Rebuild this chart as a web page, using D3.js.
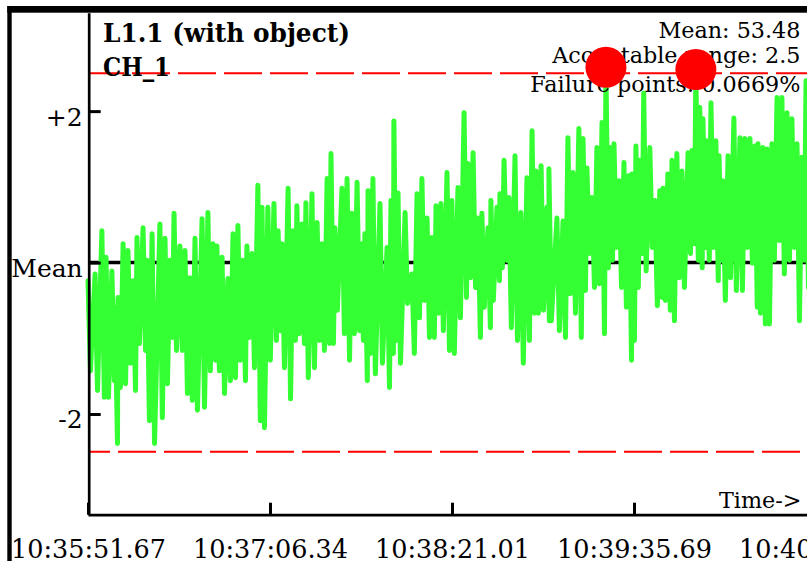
<!DOCTYPE html>
<html>
<head>
<meta charset="utf-8">
<script src="https://cdn.jsdelivr.net/npm/d3@7"></script>
<style>
  html, body { margin: 0; padding: 0; background: #ffffff; }
  svg { display: block; }
</style>
</head>
<body>
<script>
// ---------------- DATA ----------------
const chartTitle = "L1.1 (with object)";
const channelName = "CH_1";
const meanValue = 53.48;
const acceptableRange = 2.5;
const failurePoints = "0.0669%";
const xAxisNote = "Time->";

// x tick labels and their offsets (seconds after 10:35:51.67)
const xTickLabels = ["10:35:51.67", "10:37:06.34", "10:38:21.01", "10:39:35.69", "10:40:50.36"];
const xTickSeconds = [0, 74.67, 149.34, 224.02, 298.69];

// y ticks (deviation from mean)
const yTickValues = [2, 0, -2];
const yTickLabels = ["+2", "Mean", "-2"];

// sample times (seconds after start) of the read-off envelope columns
const sampleTimes = [
  0, 2.9, 5.7, 7.4, 9.8, 11.1, 12.3, 14.4, 16.4, 18.5,
  20.1, 22.6, 24.2, 26.3, 29.5, 31.6, 33.6, 35.3, 37.7, 39.8,
  41.8, 43.9, 46.8, 49.2, 51.3, 52.9, 55.0, 57.4, 59.5, 61.5,
  63.6, 65.2, 67.3, 69.7, 71.4, 73.8, 76.3, 78.0, 79.6, 82.1,
  84.1, 85.7, 87.8, 89.4, 91.9, 94.0, 96.0, 98.1, 99.7, 101.3,
  104.2, 106.3, 108.3, 110.4, 112.0, 113.6, 114.9, 116.9, 119.8, 122.7,
  124.3, 125.5, 127.2, 130.1, 132.9, 135.0, 137.0, 139.1, 141.1, 142.8,
  144.8, 147.3, 149.3, 151.8, 154.3, 155.9, 158.0, 160.0, 161.6, 164.1,
  165.3, 167.8, 169.0, 170.7, 172.7, 175.2, 177.6, 180.1, 182.2, 183.8,
  185.9, 188.3, 189.1, 192.4, 194.9, 196.9, 199.0, 201.4, 203.1, 204.7,
  206.8, 208.8, 210.9, 212.5, 214.2, 215.8, 217.9, 219.9, 222.0, 223.2,
  224.8, 226.4, 228.0, 230.5, 232.6, 234.6, 235.9, 237.9, 239.6, 241.6,
  243.7, 246.2, 247.8, 249.4, 251.0, 252.3, 253.9, 255.6, 257.6, 258.9,
  260.5, 262.6, 265.0, 267.5, 269.5, 271.6, 273.6, 274.9, 276.9, 278.6,
  280.6, 282.7, 284.7, 286.8, 288.8, 290.9, 292.9, 294.6
];

// local peak deviations (from mean) in each column
const peakValues = [
  -0.24, -0.15, 0.42, 0.07, -0.11, -0.59, -0.46, 0.25, 0.16, -0.24,
  0.33, 0.46, 0.03, 0.38, 0.51, 0.32, 0.03, 0.65, 0.22, 0.16,
  -0.20, 0.32, 0.58, 0.66, 0.25, 0.22, 0.07, -0.21, 0.38, 0.49,
  0.03, 0.22, 0.12, 1.02, 0.73, 0.73, 0.78, 0.42, 0.25, 0.98,
  0.42, 0.75, 0.51, 0.79, 0.91, 0.53, 0.25, 1.11, 1.44, 0.46,
  0.98, 1.11, 0.65, 1.06, 0.25, 0.38, 0.95, 1.11, 0.78, 0.20,
  0.82, 1.87, 0.92, 0.66, -0.15, 0.91, 1.11, 0.59, 0.33, 0.75,
  0.78, 1.19, 0.82, 0.99, 1.98, 1.31, 1.45, 0.59, 0.65, 0.46,
  0.82, 0.73, 0.91, 1.35, 0.86, 1.41, 0.66, 1.12, 1.74, 1.21,
  1.28, 0.73, 1.24, 0.59, 0.55, 1.65, 1.19, 1.77, 1.64, 1.25,
  0.86, 1.52, 1.85, 2.58, 1.52, 1.57, 1.08, 1.32, 1.15, 1.17,
  1.54, 1.35, 2.24, 1.52, 0.82, 0.95, 0.98, 1.17, 1.35, 1.44,
  1.21, 1.45, 1.48, 2.55, 2.05, 1.90, 1.61, 2.11, 1.61, 1.41,
  1.08, 1.41, 1.91, 1.65, 1.64, 1.64, 1.54, 1.57, 1.52, 1.50,
  1.57, 2.18, 2.18, 1.98, 1.90, 1.57, 1.39, 2.40
];

// local trough deviations (from mean) in each column
const troughValues = [
  -1.43, -1.69, -1.78, -1.78, -1.56, -2.39, -1.65, -1.60, -1.33, -1.69,
  -1.07, -1.16, -2.09, -2.39, -2.05, -1.60, -0.99, -1.16, -1.16, -1.73,
  -1.82, -1.95, -1.91, -1.43, -1.29, -1.43, -1.73, -1.56, -1.52, -1.29,
  -1.56, -0.99, -1.39, -2.09, -2.18, -1.29, -1.03, -0.90, -1.39, -1.80,
  -1.03, -0.94, -1.07, -1.52, -1.39, -1.03, -1.16, -1.07, -1.07, -0.63,
  -0.94, -1.29, -0.94, -0.90, -1.03, -1.56, -1.20, -1.47, -1.33, -1.65,
  -1.20, -1.03, -1.33, -0.54, -1.20, -0.73, -0.50, -0.99, -0.99, -0.67,
  -0.90, -1.16, -1.20, -0.73, -0.46, -0.20, -0.33, -0.99, -0.59, -0.86,
  -0.50, -0.24, -0.07, 0.03, -0.86, -1.03, -1.33, -1.03, -0.67, -0.67,
  -0.63, -0.77, -0.77, -0.90, -0.99, -0.41, -0.67, -0.99, -0.37, 0.12,
  -0.33, -0.28, -0.94, -0.07, 0.03, 0.20, -0.33, -0.59, -1.29, -1.03,
  -0.33, 0.12, -0.11, 0.20, -0.57, -0.46, -0.50, -0.63, -0.77, -0.20,
  -0.33, 0.12, 0.25, 0.03, -0.07, 0.20, 0.03, 0.20, -0.24, 0.03,
  -0.50, -0.20, -0.37, -0.37, 0.20, -0.01, -0.59, -0.67, -0.81, -0.81,
  0.03, 0.29, -0.15, 0.03, 0.20, -0.77, 0.03, -0.33
];

// ---------------- DRAWING ----------------
const W = 807, H = 561;
const FONT = "'DejaVu Serif', serif";
const GREEN = "#33ff33";

const svg = d3.select("body").append("svg")
  .attr("width", W).attr("height", H)
  .attr("viewBox", `0 0 ${W} ${H}`);

svg.append("rect").attr("width", W).attr("height", H).attr("fill", "#fff");

const x = d3.scaleLinear().domain([0, xTickSeconds[xTickSeconds.length - 1]]).range([88, 816]);
const y = d3.scaleLinear().domain([-3.33, 3.3]).range([514.7, 12.7]);

// outer frame (top and left)
svg.append("rect").attr("x", 7.3).attr("y", 6).attr("width", W).attr("height", 6.7).attr("fill", "#000");
svg.append("rect").attr("x", 7.3).attr("y", 6).attr("width", 4.4).attr("height", H).attr("fill", "#000");

// mean line
svg.append("line")
  .attr("x1", x(0)).attr("x2", x.range()[1])
  .attr("y1", y(0)).attr("y2", y(0))
  .attr("stroke", "#000").attr("stroke-width", 3.5);

// signal
const points = [];
sampleTimes.forEach((t, i) => {
  points.push({ t: t, v: peakValues[i] });
  points.push({ t: t + 1.0, v: troughValues[i] });
});
const line = d3.line().x(d => x(d.t)).y(d => y(d.v));
svg.append("path")
  .datum(points)
  .attr("d", line)
  .attr("fill", "none")
  .attr("stroke", GREEN)
  .attr("stroke-width", 5)
  .attr("stroke-linejoin", "round")
  .attr("stroke-linecap", "round");

// acceptable range limits
[[acceptableRange, 2], [-acceptableRange, 16]].forEach(([v, off]) => {
  svg.append("line")
    .attr("x1", x(0)).attr("x2", x.range()[1])
    .attr("y1", y(v)).attr("y2", y(v))
    .attr("stroke", "#ff0000").attr("stroke-width", 2)
    .attr("stroke-dasharray", "38,8")
    .attr("stroke-dashoffset", off);
});

// axes
const xAxis = d3.axisBottom(x)
  .tickValues(xTickSeconds)
  .tickFormat((d, i) => xTickLabels[i])
  .tickSizeInner(-12).tickSizeOuter(0).tickPadding(25);
const gx = svg.append("g").attr("transform", `translate(0,${y.range()[0]})`).call(xAxis);
gx.attr("font-family", FONT).attr("font-size", 25.5);
gx.select(".domain").attr("stroke", "#000").attr("stroke-width", 2.7);
gx.selectAll(".tick line").attr("stroke", "#000").attr("stroke-width", 3);
gx.selectAll(".tick text").attr("fill", "#000");

const yAxis = d3.axisLeft(y)
  .tickValues(yTickValues)
  .tickFormat((d, i) => yTickLabels[i])
  .tickSizeInner(-12).tickSizeOuter(0).tickPadding(6);
const gy = svg.append("g").attr("transform", "translate(88.7,0)").call(yAxis);
gy.attr("font-family", FONT).attr("font-size", 25);
gy.select(".domain").attr("stroke", "#000").attr("stroke-width", 2.7);
gy.selectAll(".tick line").attr("stroke", "#000").attr("stroke-width", 3);
gy.selectAll(".tick text").attr("fill", "#000").attr("dy", "0.56em");

// titles
svg.append("text").attr("x", 103).attr("y", 41.7)
  .attr("font-family", FONT).attr("font-weight", "bold").attr("font-size", 26.5)
  .attr("textLength", 247).attr("lengthAdjust", "spacingAndGlyphs")
  .text(chartTitle);
svg.append("text").attr("x", 103).attr("y", 76)
  .attr("font-family", FONT).attr("font-weight", "bold").attr("font-size", 26.5)
  .attr("textLength", 67).attr("lengthAdjust", "spacingAndGlyphs")
  .text(channelName);

// statistics block
const stats = [
  { t: "Mean: " + meanValue.toFixed(2), y: 38.3 },
  { t: "Acceptable range: " + acceptableRange, y: 63.3 },
  { t: "Failure points: " + failurePoints, y: 91.5 }
];
svg.selectAll("text.stat").data(stats).enter().append("text")
  .attr("class", "stat")
  .attr("x", 800.5).attr("y", d => d.y)
  .attr("text-anchor", "end")
  .attr("font-family", FONT).attr("font-size", 22.3)
  .attr("fill", "#000")
  .text(d => d.t);

svg.append("text").attr("x", 801.5).attr("y", 508)
  .attr("text-anchor", "end")
  .attr("font-family", FONT).attr("font-size", 22.3)
  .text(xAxisNote);

// failure markers
const failures = points.filter(d => Math.abs(d.v) > acceptableRange);
svg.selectAll("circle.fail").data(failures).enter().append("circle")
  .attr("class", "fail")
  .attr("cx", d => x(d.t)).attr("cy", d => y(d.v))
  .attr("r", 20.5)
  .attr("fill", "#ff0000");
</script>
</body>
</html>
